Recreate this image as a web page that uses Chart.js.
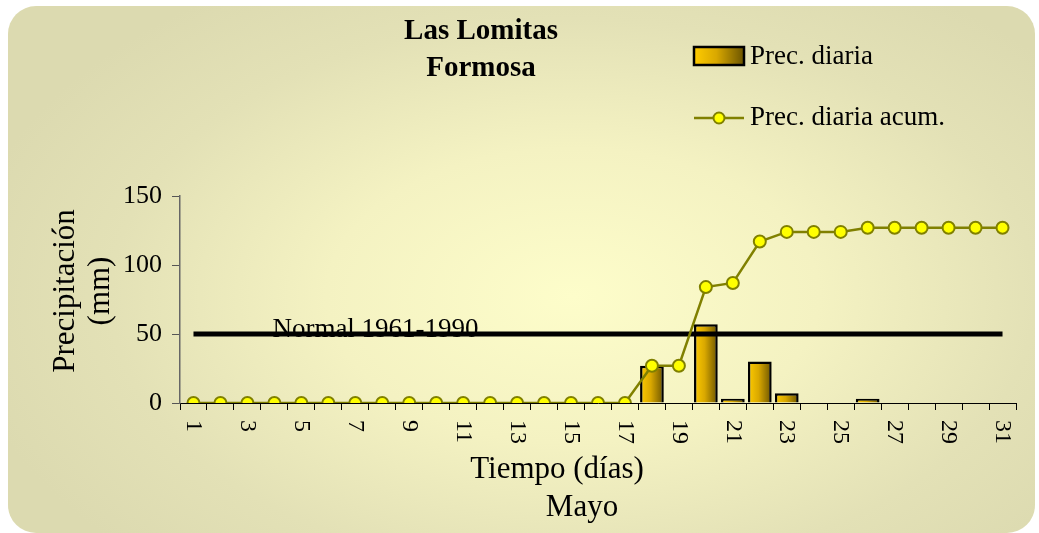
<!DOCTYPE html>
<html>
<head>
<meta charset="utf-8">
<script src="https://cdn.jsdelivr.net/npm/chart.js@4.4.1/dist/chart.umd.min.js"></script>
<style>
  html, body { margin: 0; padding: 0; background: #fff; }
  #wrap { position: relative; width: 1039px; height: 533px; overflow: hidden; }
  #bg {
    position: absolute; left: 8px; top: 6px; width: 1027px; height: 527px;
    border-radius: 28px;
    background: radial-gradient(ellipse 60% 70% at 55% 55%, #fdfdca 0%, #f4f2c2 40%, #e3e1b6 75%, #dcdab0 100%);
  }
  canvas { position: absolute; left: 0; top: 0; }
</style>
</head>
<body>
<div id="wrap">
  <div id="bg"></div>
  <canvas id="chart" width="1039" height="533"></canvas>
</div>
<script>
const days = ['1','2','3','4','5','6','7','8','9','10','11','12','13','14','15','16',
  '17','18','19','20','21','22','23','24','25','26','27','28','29','30','31'];
const daily = [0,0,0,0,0,0,0,0,0,0,0,0,0,0,0,0,0,27,0,57,3,30,7,0,0,3,0,0,0,0,0];
const cumulative = [0,0,0,0,0,0,0,0,0,0,0,0,0,0,0,0,0,27,27,84,87,117,124,124,124,127,127,127,127,127,127];
const normal = [50,50,50,50,50,50,50,50,50,50,50,50,50,50,50,50,50,50,50,50,50,50,50,50,50,50,50,50,50,50,50];
const yTicks = [0, 50, 100, 150];

const titleLines = ['Las Lomitas', 'Formosa'];
const xTitleLines = ['Tiempo (días)', 'Mayo'];
const yTitleLines = ['Precipitación', '(mm)'];
const normalLabel = 'Normal 1961-1990';

const FONT = "'Liberation Serif', 'Times New Roman', serif";
const olive = '#808000';

function barGradient(ctx, x0, x1) {
  const g = ctx.createLinearGradient(x0, 0, x1, 0);
  g.addColorStop(0, '#ffcc00');
  g.addColorStop(0.45, '#d9a800');
  g.addColorStop(1, '#6b5400');
  return g;
}

const textPlugin = {
  id: 'texts',
  afterDraw(chart) {
    const ctx = chart.ctx;
    const xs = chart.scales.x, ys = chart.scales.y;
    ctx.save();
    ctx.fillStyle = '#000';

    // title
    ctx.font = 'bold 29px ' + FONT;
    ctx.textAlign = 'center';
    ctx.textBaseline = 'middle';
    ctx.fillText(titleLines[0], 481, 32);
    ctx.fillText(titleLines[1], 481, 69);

    // x tick labels, rotated clockwise
    ctx.font = '24px ' + FONT;
    days.forEach((d, i) => {
      if (i % 2 !== 0) return;
      const x = xs.getPixelForValue(i);
      ctx.save();
      ctx.translate(x, ys.bottom + 17);
      ctx.rotate(Math.PI / 2);
      ctx.textAlign = 'left';
      ctx.textBaseline = 'middle';
      ctx.fillText(d, 0, 0);
      ctx.restore();
    });

    // axis titles
    ctx.font = '31px ' + FONT;
    ctx.textAlign = 'center';
    ctx.textBaseline = 'middle';
    ctx.fillText(xTitleLines[0], 557, 470);
    ctx.fillText(xTitleLines[1], 582, 508);

    ctx.save();
    ctx.translate(66, 291);
    ctx.rotate(-Math.PI / 2);
    ctx.fillText(yTitleLines[0], 0, 0);
    ctx.fillText(yTitleLines[1], 0, 35);
    ctx.restore();

    // normal label
    ctx.font = '27px ' + FONT;
    ctx.textAlign = 'left';
    ctx.textBaseline = 'alphabetic';
    ctx.fillText(normalLabel, xs.getPixelForValue(3) - 2, ys.getPixelForValue(50) + 3);

    // legend
    const bx = 694, by = 47;
    ctx.fillStyle = barGradient(ctx, bx, bx + 50);
    ctx.fillRect(bx, by, 50, 18);
    ctx.lineWidth = 2.5;
    ctx.strokeStyle = '#000';
    ctx.strokeRect(bx, by, 50, 18);
    ctx.fillStyle = '#000';
    ctx.font = '27px ' + FONT;
    ctx.textBaseline = 'middle';
    ctx.fillText(chart.data.datasets[2].label, 750, 57);

    ctx.strokeStyle = olive;
    ctx.lineWidth = 2.5;
    ctx.beginPath();
    ctx.moveTo(694, 118);
    ctx.lineTo(744, 118);
    ctx.stroke();
    ctx.beginPath();
    ctx.arc(719, 118, 5.5, 0, Math.PI * 2);
    ctx.fillStyle = '#ffff00';
    ctx.fill();
    ctx.lineWidth = 2;
    ctx.stroke();
    ctx.fillStyle = '#000';
    ctx.fillText(chart.data.datasets[0].label, 750, 118);

    ctx.restore();
  }
};

new Chart(document.getElementById('chart'), {
  type: 'bar',
  data: {
    labels: days,
    datasets: [
      {
        type: 'line',
        label: 'Prec. diaria acum.',
        data: cumulative,
        borderColor: olive,
        borderWidth: 2.5,
        pointRadius: 6,
        pointBackgroundColor: '#ffff00',
        pointBorderColor: olive,
        pointBorderWidth: 2,
        tension: 0,
        order: 0,
      },
      {
        type: 'line',
        label: 'Normal',
        data: normal,
        borderColor: '#000',
        borderWidth: 5,
        pointRadius: 0,
        order: 1,
      },
      {
        label: 'Prec. diaria',
        data: daily,
        borderColor: '#000',
        borderWidth: 2.5,
        borderSkipped: 'start',
        categoryPercentage: 1,
        barPercentage: 0.88,
        backgroundColor: (c) => {
          const chart = c.chart;
          if (!chart.chartArea || !chart.scales.x) return '#e0b000';
          const xs = chart.scales.x;
          const x = xs.getPixelForValue(c.dataIndex);
          const w = (xs.width / days.length) * 0.88;
          return barGradient(chart.ctx, x - w / 2, x + w / 2);
        },
        order: 2,
      },
    ],
  },
  options: {
    responsive: false,
    animation: false,
    events: [],
    layout: { padding: { top: 196, right: 23, bottom: 0, left: 0 } },
    plugins: {
      legend: { display: false },
      tooltip: { enabled: false },
    },
    scales: {
      x: {
        offset: true,
        grid: {
          offset: true,
          drawOnChartArea: false,
          drawTicks: true,
          tickLength: 7,
          color: '#000',
          lineWidth: 1,
        },
        border: { color: '#000', width: 1 },
        ticks: { display: false },
        afterFit: (s) => { s.height = 130; },
      },
      y: {
        min: 0,
        max: 150,
        afterBuildTicks: (s) => { s.ticks = yTicks.map(v => ({ value: v })); },
        grid: {
          drawOnChartArea: false,
          drawTicks: true,
          tickLength: 8,
          color: '#555',
        },
        border: { color: '#666', width: 1.5 },
        ticks: {
          padding: 10,
          color: '#000',
          font: { family: FONT, size: 26 },
        },
        afterFit: (s) => { s.width = 180; },
      },
    },
  },
  plugins: [textPlugin],
});
</script>
</body>
</html>
